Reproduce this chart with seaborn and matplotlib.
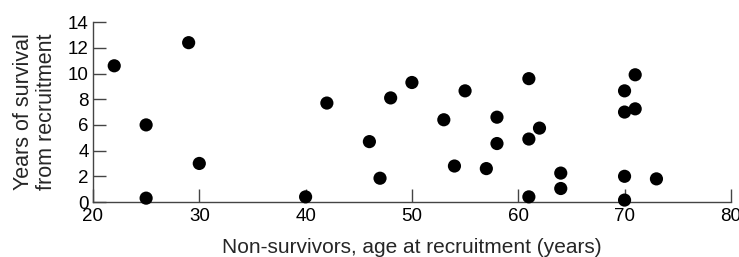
import numpy as np
import pandas as pd
import matplotlib
matplotlib.use("Agg")
import matplotlib.pyplot as plt
import seaborn as sns

# ages at recruitment and years survived
age = [22, 29, 25, 30, 25, 40, 42, 46, 47, 48, 50, 53, 54, 55, 57,
       58, 58, 61, 61, 61, 62, 64, 64, 70, 70, 71, 71, 70, 70, 73]
years = [10.6, 12.4, 6.0, 3.0, 0.3, 0.4, 7.7, 4.7, 1.85, 8.1, 9.3, 6.4, 2.8, 8.65, 2.6,
         6.6, 4.55, 9.6, 4.9, 0.4, 5.75, 2.25, 1.05, 8.65, 7.0, 9.9, 7.25, 2.0, 0.15, 1.8]
xticks = [20, 30, 40, 50, 60, 70, 80]
yticks = [0, 2, 4, 6, 8, 10, 12, 14]

df = pd.DataFrame({"age": age, "years": years})

sns.set_theme(style="ticks")
plt.rcParams['font.family'] = ['Liberation Sans', 'DejaVu Sans']

fig = plt.figure(figsize=(7.39, 2.57), dpi=100)
ax = fig.add_axes([0.1258, 0.214, 0.8632, 0.700])

sns.scatterplot(data=df, x="age", y="years", ax=ax, color="black",
                s=90, edgecolor="none", clip_on=False, zorder=3)

ax.set_xlim(20, 80)
ax.set_ylim(0, 14)
ax.set_xticks(xticks)
ax.set_yticks(yticks)
ax.tick_params(direction="in", length=9.5, width=1, color="#444444",
               labelsize=13.5, pad=3, labelcolor="black")
ax.tick_params(axis="x", pad=4.5)
ax.set_xticklabels([str(t) for t in xticks])
ax.set_yticklabels([str(t) for t in yticks])
for s in ["top", "right"]:
    ax.spines[s].set_visible(False)
for s in ["left", "bottom"]:
    ax.spines[s].set_color("#444444")
    ax.spines[s].set_linewidth(1)

ax.set_xlabel("Non-survivors, age at recruitment (years)", fontsize=15, labelpad=9)
ax.set_ylabel("Years of survival\nfrom recruitment", fontsize=15.5, labelpad=8,
              linespacing=1.12)

fig.savefig("out.png", dpi=100)
